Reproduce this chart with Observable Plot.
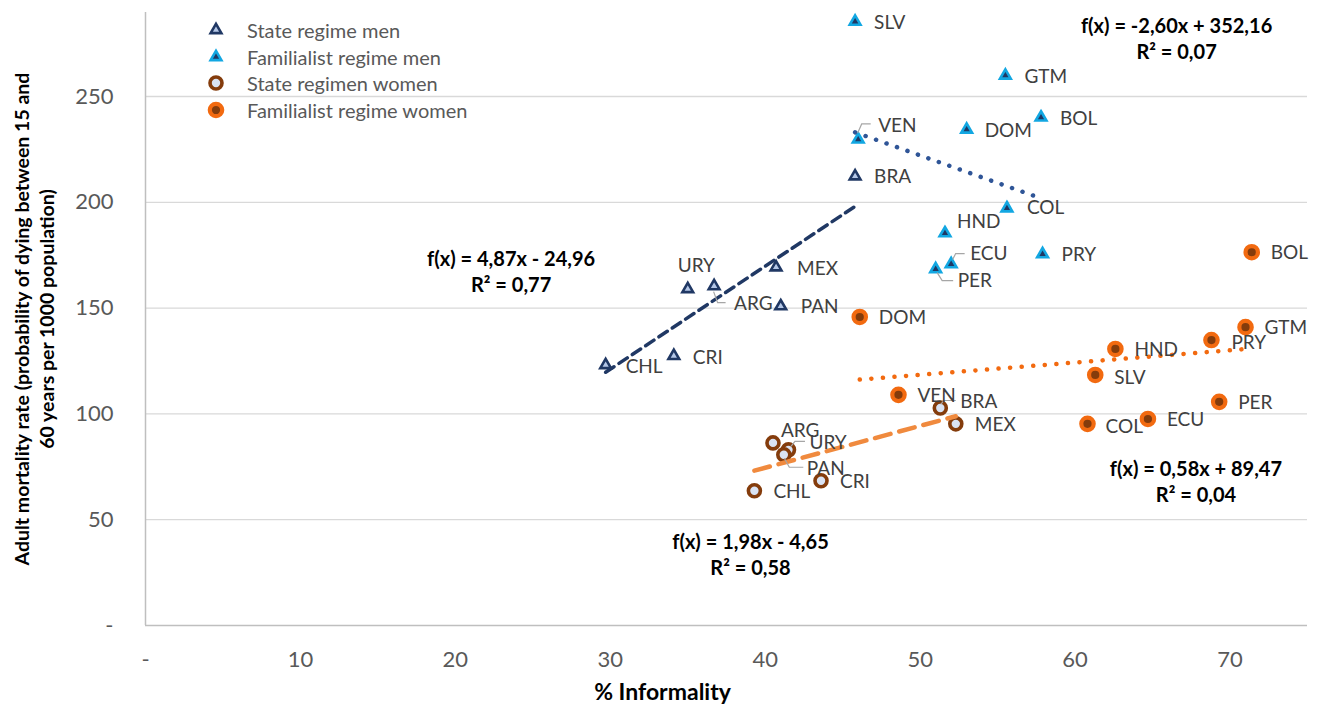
<!DOCTYPE html>
<html><head><meta charset="utf-8">
<script src="https://cdn.jsdelivr.net/npm/d3@7"></script>
<script src="https://cdn.jsdelivr.net/npm/@observablehq/plot@0.6"></script>
<style>
html,body{margin:0;padding:0;background:#fff;}
#chart{position:relative;width:1317px;height:706px;font-family:Lato,"Open Sans",sans-serif;}
.lg-text{position:absolute;left:247px;font-size:20px;color:#595959;line-height:24px;white-space:nowrap;}
.lg-sym{position:absolute;left:206px;width:20px;height:20px;}
</style></head><body><div id="chart"></div>
<script>
// ---------------- data ----------------
const seriesNames = ["State regime men","Familialist regime men","State regimen women","Familialist regime women"];

const stateMenCountries   = ["CHL","CRI","URY","ARG","MEX","PAN","BRA"];
const stateMenInformality = [29.7, 34.1, 35.0, 36.7, 40.7, 41.0, 45.8];
const stateMenMortality   = [123.1, 127.4, 159.0, 160.4, 169.3, 150.9, 212.3];

const famMenCountries   = ["SLV","GTM","BOL","DOM","VEN","COL","HND","ECU","PER","PRY"];
const famMenInformality = [45.8, 55.5, 57.8, 53.0, 46.0, 55.6, 51.6, 52.0, 51.0, 57.9];
const famMenMortality   = [285.4, 259.9, 240.1, 234.4, 229.7, 197.2, 185.4, 170.8, 168.4, 175.5];

const stateWomenCountries   = ["ARG","URY","PAN","CHL","CRI","BRA","MEX"];
const stateWomenInformality = [40.5, 41.5, 41.2, 39.3, 43.6, 51.3, 52.3];
const stateWomenMortality   = [86.3, 83.0, 80.7, 63.7, 68.4, 102.8, 95.3];

const famWomenCountries   = ["DOM","VEN","BOL","GTM","PRY","HND","SLV","PER","ECU","COL"];
const famWomenInformality = [46.1, 48.6, 71.4, 71.0, 68.8, 62.6, 61.3, 69.3, 64.7, 60.8];
const famWomenMortality   = [145.8, 109.0, 176.4, 141.0, 134.9, 130.7, 118.4, 105.7, 97.6, 95.3];

const trendSlopes     = [4.87, -2.60, 1.98, 0.58];
const trendIntercepts = [-24.96, 352.16, -4.65, 89.47];
const trendR2         = [0.77, 0.07, 0.58, 0.04];

const xTicks = [0, 10, 20, 30, 40, 50, 60, 70];
const yTicks = [0, 50, 100, 150, 200, 250];
const xTitle = "% Informality";
const yTitle = "Adult mortality rate (probability of dying between 15 and\n60 years per 1000 population)";

// ---------------- layout & styles ----------------
const xDomain = [0, 75];
const yDomain = [0, 289.7];
const FONT = "Lato, 'Open Sans', sans-serif";

const seriesStyle = [
  {symbol: "triangle", r: 4, fill: "#B4C7E7", stroke: "#203864", strokeWidth: 2.6},
  {symbol: "triangle", r: 4, fill: "#1F3864", stroke: "#12A7E2", strokeWidth: 2.6},
  {symbol: "circle",   r: 6, fill: "#DAE3F3", stroke: "#843C0C", strokeWidth: 3.6},
  {symbol: "circle",   r: 6.2, fill: "#843C0C", stroke: "#F26A10", strokeWidth: 4.2}
];
const trendStyle = [
  {stroke: "#203864", strokeWidth: 3.5, strokeDasharray: "10,6"},
  {stroke: "#2F5597", strokeWidth: 4.5, strokeDasharray: "0.1,11", strokeLinecap: "round"},
  {stroke: "#F08A3E", strokeWidth: 4.5, strokeDasharray: "16,9"},
  {stroke: "#F26A10", strokeWidth: 4.5, strokeDasharray: "0.1,11.5", strokeLinecap: "round"}
];
// label offsets in pixels (dx, dy) relative to the marker; default [19, 1]
const labelOffsets = {
  "0:CHL": [20, 2], "0:CRI": [19, 2], "0:URY": [-10, -23], "0:ARG": [20, 18], "0:MEX": [21, 2], "0:PAN": [20, 1],
  "1:DOM": [18, 1], "1:VEN": [20, -14], "1:COL": [20, 0], "1:HND": [12, -11], "1:ECU": [19, -10], "1:PER": [22, 12],
  "2:ARG": [8, -12], "2:URY": [21, -7], "2:PAN": [23, 14], "2:BRA": [20, -6],
  "3:PRY": [20, 3], "3:SLV": [19, 3], "3:COL": [18, 3]
};
// leader lines (pixel polylines relative to marker)
const leaderPaths = {
  "0:ARG": [[0, 6], [4, 17], [12, 17]],
  "1:VEN": [[0, -6], [4, -15], [13, -15]],
  "1:ECU": [[2, -4], [5, -10], [14, -10]],
  "1:PER": [[2, 4], [7, 12], [18, 12]],
  "2:URY": [[3, -3], [7, -8], [17, -8]],
  "2:PAN": [[1, 4], [6, 13], [20, 13]],
  "2:BRA": [[1, -3], [4, -7], [16, -7]]
};
// equation annotation anchors (data coordinates)
const eqAnchors = [[23.6, 167.8], [66.55, 277.6], [39.05, 33.8], [67.8, 68.5]];

// ---------------- build tables ----------------
const groups = [
  [stateMenCountries, stateMenInformality, stateMenMortality],
  [famMenCountries, famMenInformality, famMenMortality],
  [stateWomenCountries, stateWomenInformality, stateWomenMortality],
  [famWomenCountries, famWomenInformality, famWomenMortality]
];
const rows = groups.flatMap(([cs, xs, ys], i) =>
  cs.map((country, j) => ({s: i, series: seriesNames[i], country, informality: xs[j], mortality: ys[j], key: i + ":" + country})));
const trendRows = groups.flatMap(([cs, xs], i) =>
  [d3.min(xs), d3.max(xs)].map(x => ({s: i, informality: x, mortality: trendSlopes[i] * x + trendIntercepts[i]})));
const dec = v => (v < 0 ? "-" : "") + Math.abs(v).toFixed(2).replace(".", ",");
const eqRows = trendSlopes.map((m, i) => ({
  informality: eqAnchors[i][0], mortality: eqAnchors[i][1],
  text: `f(x) = ${dec(m)}x ${trendIntercepts[i] < 0 ? "-" : "+"} ${dec(Math.abs(trendIntercepts[i]))}\nR² = ${dec(trendR2[i])}`
}));
const tickFmt = d => d === 0 ? "-" : String(d);

// ---------------- marks ----------------
const marks = [
  Plot.gridY(yTicks.filter(d => d > 0), {stroke: "#d9d9d9", strokeOpacity: 1, strokeWidth: 1.3}),
  Plot.ruleX([0], {stroke: "#bfbfbf", strokeWidth: 1.5}),
  Plot.ruleY([0], {stroke: "#bfbfbf", strokeWidth: 1.5}),
  Plot.axisY({ticks: yTicks, tickFormat: tickFmt, tickSize: 0, tickPadding: 32, fontSize: 22, label: null}),
  Plot.axisX({ticks: xTicks, tickFormat: tickFmt, tickSize: 0, tickPadding: 26, fontSize: 22, label: null})
];
seriesStyle.forEach((st, i) => {
  marks.push(Plot.dot(rows.filter(d => d.s === i), {x: "informality", y: "mortality", ...st}));
});
trendStyle.forEach((st, i) => {
  marks.push(Plot.line(trendRows.filter(d => d.s === i), {x: "informality", y: "mortality", ...st}));
});
// leader lines
marks.push((index, scales) => {
  const g = d3.create("svg:g").attr("fill", "none").attr("stroke", "#a6a6a6").attr("stroke-width", 1.2);
  for (const d of rows) {
    const p = leaderPaths[d.key];
    if (!p) continue;
    const px = scales.x(d.informality), py = scales.y(d.mortality);
    g.append("polyline").attr("points", p.map(([dx, dy]) => `${px + dx},${py + dy}`).join(" "));
  }
  return g.node();
});
// country labels
for (const d of rows) {
  const [dx, dy] = labelOffsets[d.key] || [19, 1];
  marks.push(Plot.text([d], {x: "informality", y: "mortality", text: "country", dx, dy,
    textAnchor: "start", fontSize: 19, fill: "#404040", fontFamily: FONT}));
}
// equations
marks.push(Plot.text(eqRows, {x: "informality", y: "mortality", text: "text", textAnchor: "middle",
  lineAnchor: "middle", lineHeight: 1.3, fontSize: 20, fontWeight: "bold", fill: "#000", fontFamily: FONT}));
// axis titles
marks.push(Plot.text([xTitle], {frameAnchor: "bottom", dx: -64, dy: 67, lineAnchor: "middle",
  fontSize: 23, fontWeight: "bold", fill: "#000", fontFamily: FONT}));
marks.push(Plot.text([yTitle], {frameAnchor: "left", dx: -112, rotate: -90, textAnchor: "middle", lineAnchor: "middle",
  lineHeight: 1.3, fontSize: 19.5, fontWeight: "bold", fill: "#000", fontFamily: FONT}));

const plot = Plot.plot({
  width: 1317, height: 706,
  marginLeft: 145, marginRight: 10, marginTop: 12, marginBottom: 81,
  x: {domain: xDomain}, y: {domain: yDomain},
  style: {fontFamily: FONT, fontSize: "22px", color: "#595959", background: "#fff", overflow: "visible"},
  marks
});
const chart = document.getElementById("chart");
chart.appendChild(plot);

// ---------------- legend ----------------
const legendRowsY = [30, 57, 83, 110];
seriesNames.forEach((name, i) => {
  const st = seriesStyle[i];
  const svg = d3.create("svg").attr("class", "lg-sym").attr("width", 20).attr("height", 20)
    .style("top", (legendRowsY[i] - 10) + "px");
  const sym = st.symbol === "triangle" ? d3.symbolTriangle : d3.symbolCircle;
  svg.append("path").attr("transform", "translate(10,10)")
    .attr("d", d3.symbol(sym, Math.PI * st.r * st.r)())
    .attr("fill", st.fill).attr("stroke", st.stroke).attr("stroke-width", st.strokeWidth);
  chart.appendChild(svg.node());
  const t = document.createElement("div");
  t.className = "lg-text";
  t.style.top = (legendRowsY[i] - 12) + "px";
  t.textContent = name;
  chart.appendChild(t);
});
</script>
</body></html>
